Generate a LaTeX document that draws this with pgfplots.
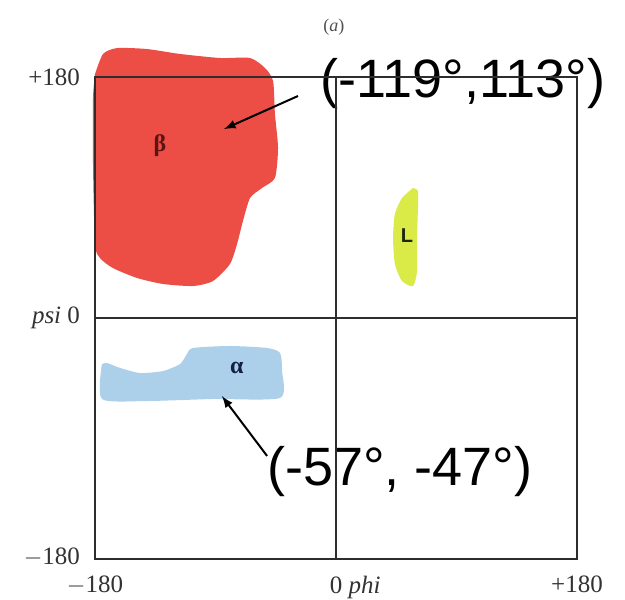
\documentclass[border=0pt]{standalone}
\usepackage{fontspec}
\setmainfont{Liberation Serif}
\newfontfamily\arialfont{Liberation Sans}
\usepackage{pgfplots}
\pgfplotsset{compat=1.18}
\definecolor{betared}{RGB}{236,78,70}
\definecolor{alphablue}{RGB}{172,208,234}
\definecolor{lyellow}{RGB}{218,234,70}
\definecolor{linegray}{RGB}{45,45,45}
\definecolor{ticktext}{RGB}{50,50,50}
\begin{document}
\begin{tikzpicture}
\begin{axis}[
  name=ax,
  scale only axis,
  width=241pt, height=241pt,
  xmin=-180, xmax=180, ymin=-180, ymax=180,
  clip=false,
  axis on top,
  axis line style={linegray, line width=0.7pt},
  xtick={-180,0,180}, ytick={-180,0,180},
  xticklabels={$-$180, 0\rlap{ \textit{phi}}, +180},
  yticklabels={\raisebox{3pt}{$-$180}, \llap{\textit{psi} }0, +180},
  major tick length=0pt,
  xmajorgrids, ymajorgrids,
  grid style={linegray, line width=0.7pt},
  tick label style={font=\fontsize{12.5}{14}\selectfont, text=ticktext},
  /pgf/number format/assume math mode=true,
  xticklabel style={yshift=-5pt},
  yticklabel style={xshift=-4pt},
]
% beta region
\addplot[fill=betared, draw=none, smooth, tension=0.4] coordinates {
(-180,182.2) (-174.0,197.2) (-163.6,201.6) (-141.2,200.9) (-116.5,197.2)
(-86.6,194.2) (-64.2,194.2) (-53.0,186.7) (-47.0,177.0) (-45.6,152.4)
(-43.3,127.0) (-45.6,104.6) (-55.3,97.1) (-64.2,89.6) (-69.5,72.4)
(-73.9,55.3) (-79.2,40.3) (-91.9,27.6) (-106.8,23.9) (-129.2,25.4)
(-148.6,29.9) (-166.6,37.3) (-176.3,44.8) (-180,55.3) (-181.5,115.0)
(-181.5,164.3) (-180,182.2)
};
% alpha region
\addplot[fill=alphablue, draw=none, smooth, tension=0.4] coordinates {
(-174.8,-34.4) (-174.8,-60.5) (-141.2,-62.0) (-91.9,-60.5) (-41.8,-59.7)
(-40.3,-39.6) (-41.8,-26.1) (-51.5,-22.4) (-79.2,-20.9) (-106.8,-22.4)
(-111.3,-26.9) (-116.5,-34.4) (-129.2,-39.6) (-146.4,-41.1) (-161.3,-37.3)
(-171.0,-33.6) (-174.8,-34.4)
};
% L region
\addplot[fill=lyellow, draw=none, smooth, tension=0.4] coordinates {
(57.5,97.1) (49.3,89.6) (44.0,77.7) (42.6,59.7) (44.0,40.3) (49.3,27.6)
(57.5,23.9) (60.5,35.1) (60.5,59.7) (61.2,82.2) (61.2,94.8) (57.5,97.1)
};
% region labels
\node[text={rgb,255:red,90;green,20;blue,20}, font=\fontsize{12}{13}\selectfont\bfseries] at (axis cs:-131.5,128.5) {β};
\node[text={rgb,255:red,20;green,30;blue,70}, font=\fontsize{12}{13}\selectfont\bfseries] at (axis cs:-74,-37.3) {α};
\node[text={rgb,255:red,30;green,40;blue,10}, font=\fontsize{10}{11}\selectfont\bfseries\arialfont] at (axis cs:53,61.2) {L};
% title
\node[text={rgb,255:red,80;green,80;blue,80}, font=\fontsize{9}{10}\selectfont] at (axis cs:-1.5,217.3) {(\textit{a})};
% annotations
\node[font=\fontsize{27}{29}\selectfont\arialfont] at (axis cs:94.8,175.5) {(-119°,113°)};
\node[font=\fontsize{27}{29}\selectfont\arialfont] at (axis cs:47.8,-114.3) {(-57°, -47°)};
\draw[-latex, line width=1pt] (axis cs:-28.4,165.8) -- (axis cs:-83.7,141.1);
\draw[-latex, line width=1pt] (axis cs:-51.5,-103) -- (axis cs:-85.2,-58.3);
\end{axis}
\pgfresetboundingbox
\path[use as bounding box] ([shift={(-47.5pt,-20pt)}]ax.south west) rectangle ([shift={(24pt,38.5pt)}]ax.north east);
\end{tikzpicture}
\end{document}
